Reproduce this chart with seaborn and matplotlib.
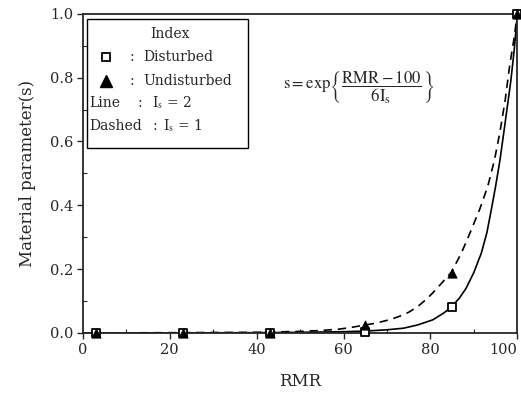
import matplotlib
matplotlib.use("Agg")
import matplotlib.pyplot as plt
import seaborn as sns
from matplotlib.patches import Rectangle
from matplotlib.ticker import MultipleLocator

# ---- data ----
dashed_rmr = [0, 20, 40, 50, 55, 59, 62, 65, 67.5, 71, 73, 75, 77, 79, 80.5, 82.5, 84.8, 87.1, 89,
              91.4, 93.2, 94.7, 96, 97.2, 98.2, 99.2, 100]
dashed_s   = [0, 0.001, 0.002, 0.005, 0.008, 0.012, 0.018, 0.025, 0.031, 0.043, 0.053, 0.065, 0.082,
              0.105, 0.125, 0.155, 0.190, 0.250, 0.310, 0.390, 0.460, 0.540, 0.630, 0.730, 0.835, 0.920, 1.0]

line_rmr = [0, 20, 40, 50, 55, 60, 65, 70, 73.8, 77, 80.5, 83, 84.8, 86.7, 88.2, 90, 91.7, 93,
            94, 95, 96, 97, 97.6, 98.5, 99.3, 100]
line_s   = [0, 0, 0.001, 0.002, 0.003, 0.004, 0.006, 0.010, 0.015, 0.025, 0.041, 0.062, 0.081,
            0.110, 0.140, 0.190, 0.250, 0.315, 0.386, 0.460, 0.542, 0.640, 0.700, 0.790, 0.890, 1.0]

dist_rmr = [3, 23, 43, 65, 85, 100]
dist_s   = [0, 0, 0, 0.003, 0.081, 1.0]
undist_rmr = [3, 23, 43, 65, 85, 100]
undist_s   = [0, 0, 0, 0.025, 0.187, 1.0]

x_ticks = [0, 20, 40, 60, 80, 100]
x_ticklabels = ["0", "20", "40", "60", "80", "100"]
y_ticks = [0.0, 0.2, 0.4, 0.6, 0.8, 1.0]
y_ticklabels = ["0.0", "0.2", "0.4", "0.6", "0.8", "1.0"]

sns.set_style("ticks")
plt.rcParams["font.family"] = ["DejaVu Serif"]
plt.rcParams["mathtext.fontset"] = "stix"

fig = plt.figure(figsize=(5.21, 3.95), dpi=100)
ax = fig.add_axes([0.159, 0.157, 0.834, 0.808])

sns.lineplot(x=line_rmr, y=line_s, ax=ax, color="black", linewidth=1.2)
sns.lineplot(x=dashed_rmr, y=dashed_s, ax=ax, color="black", linewidth=1.2,
             linestyle=(0, (5, 3.5)))
sns.scatterplot(x=dist_rmr, y=dist_s, ax=ax, marker="s", s=40,
                facecolor="white", edgecolor="black", linewidth=1.3, zorder=5, clip_on=False)
sns.scatterplot(x=undist_rmr, y=undist_s, ax=ax, marker="^", s=45,
                color="black", edgecolor="black", zorder=6, clip_on=False)

ax.set_xlim(0, 100)
ax.set_ylim(0, 1.0)
ax.set_xticks(x_ticks)
ax.set_xticklabels(x_ticklabels)
ax.set_yticks(y_ticks)
ax.set_yticklabels(y_ticklabels)
ax.xaxis.set_minor_locator(MultipleLocator(10))
ax.yaxis.set_minor_locator(MultipleLocator(0.1))
ax.tick_params(which="major", direction="out", length=4, width=1, labelsize=10.5, pad=3)
ax.tick_params(which="minor", direction="in", length=3, width=0.8)
for sp in ax.spines.values():
    sp.set_linewidth(1.3)
    sp.set_visible(True)

# keep the last x tick label inside the figure
ax.get_xticklabels()[-1].set_horizontalalignment("right")

ax.set_xlabel("RMR", fontsize=12, labelpad=12)
ax.set_ylabel("Material parameter(s)", fontsize=12, labelpad=10)

# legend box
tr = ax.transAxes
ax.add_patch(Rectangle((0.01, 0.58), 0.37, 0.405, transform=tr, fill=False,
                       edgecolor="black", linewidth=1.0, zorder=7))
fs = 10
ax.text(0.20, 0.937, "Index", transform=tr, ha="center", va="center", fontsize=fs)
ax.plot([0.053], [0.865], transform=tr, marker="s", markersize=5.5, mfc="white",
        mec="black", mew=1.3, linestyle="none", clip_on=False)
ax.text(0.113, 0.865, ":", transform=tr, ha="center", va="center", fontsize=fs)
ax.text(0.138, 0.865, "Disturbed", transform=tr, ha="left", va="center", fontsize=fs)
ax.plot([0.053], [0.79], transform=tr, marker="^", markersize=8, color="black",
        linestyle="none", clip_on=False)
ax.text(0.113, 0.79, ":", transform=tr, ha="center", va="center", fontsize=fs)
ax.text(0.138, 0.79, "Undisturbed", transform=tr, ha="left", va="center", fontsize=fs)
ax.text(0.015, 0.721, "Line", transform=tr, ha="left", va="center", fontsize=fs)
ax.text(0.131, 0.721, ":", transform=tr, ha="center", va="center", fontsize=fs)
ax.text(0.16, 0.721, r"I$_\mathrm{s}$ = 2", transform=tr, ha="left", va="center", fontsize=fs)
ax.text(0.015, 0.649, "Dashed", transform=tr, ha="left", va="center", fontsize=fs)
ax.text(0.165, 0.649, ":", transform=tr, ha="center", va="center", fontsize=fs)
ax.text(0.185, 0.649, r"I$_\mathrm{s}$ = 1", transform=tr, ha="left", va="center", fontsize=fs)

ax.text(0.46, 0.77, r"$\mathrm{s} = \mathrm{exp}\left\{\dfrac{\mathrm{RMR} - 100}{6\mathrm{I_s}}\right\}$",
        transform=tr, ha="left", va="center", fontsize=12)

fig.savefig("out.png", dpi=100)
